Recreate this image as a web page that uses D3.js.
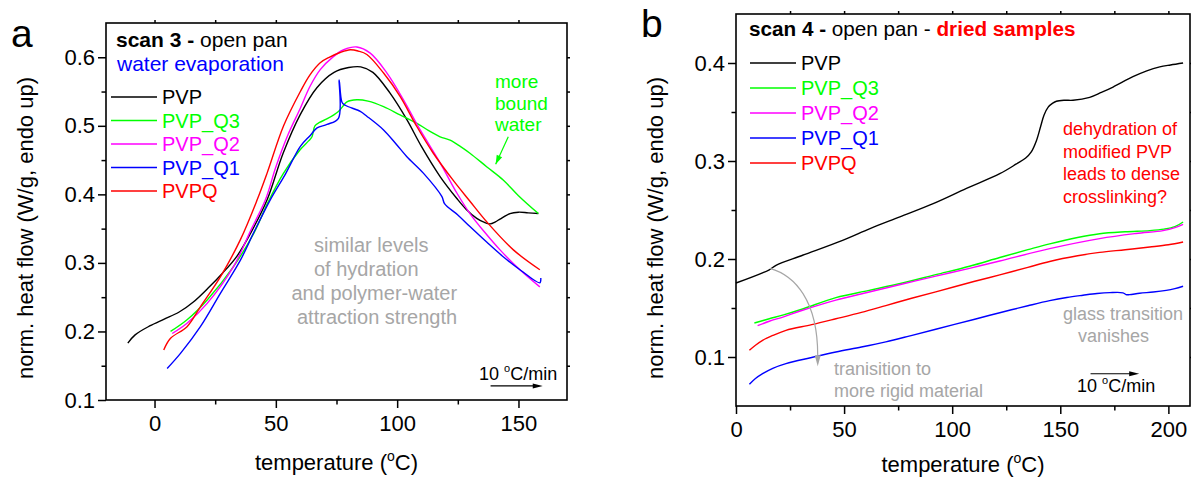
<!DOCTYPE html>
<html><head><meta charset="utf-8">
<script src="https://cdn.jsdelivr.net/npm/d3@7"></script>
<style>body{margin:0;background:#fff}svg{display:block;font-family:Arial,"Liberation Sans",sans-serif}</style>
</head><body>
<svg id="c" width="1191" height="485"></svg>
<script>
// ---------------- DATA ----------------
const seriesNames = ["PVP", "PVP_Q3", "PVP_Q2", "PVP_Q1", "PVPQ"];
const seriesColors = ["#000000", "#00ff00", "#ff00ff", "#0000ff", "#ff0000"];

// panel a: scan 3 (temperature °C, W/g)
const scan3_PVP = [[-11,0.183],[-8,0.195],[-2,0.208],[4,0.218],[10,0.228],[16,0.243],[22,0.263],[28,0.285],[34,0.31],[40,0.346],[46.4,0.392],[53,0.46],[60,0.516],[67,0.556],[74,0.578],[80,0.585],[85,0.586],[90,0.578],[97,0.548],[104,0.509],[110,0.47],[117.7,0.426],[124.6,0.394],[128.5,0.378],[132.8,0.365],[136,0.359],[138.3,0.357],[140.5,0.36],[142.4,0.364],[146.5,0.372],[150,0.374],[154,0.373],[158.2,0.372]];
const scan3_PVP_Q3 = [[6.6,0.2],[13.4,0.217],[21.7,0.246],[32.6,0.295],[40.9,0.343],[46.7,0.388],[53,0.43],[60,0.465],[63.5,0.478],[64.9,0.484],[66.1,0.5],[68,0.505],[71,0.51],[75.8,0.521],[77.5,0.528],[79.3,0.535],[83.4,0.538],[88,0.536],[94.4,0.528],[101.2,0.516],[108,0.504],[113,0.493],[117.7,0.484],[121.8,0.479],[126,0.47],[130,0.46],[137,0.44],[143.7,0.421],[150,0.398],[158.2,0.372]];
const scan3_PVP_Q2 = [[7.3,0.197],[13.4,0.212],[21.7,0.241],[32.6,0.295],[40,0.35],[45.7,0.392],[50,0.44],[55,0.487],[60,0.525],[64,0.557],[68.3,0.582],[73.7,0.601],[78,0.611],[83.4,0.615],[88.9,0.606],[95.8,0.577],[102.6,0.538],[109.5,0.494],[117.7,0.446],[124.6,0.402],[130,0.372],[136,0.345],[142.4,0.319],[150.6,0.29],[158.8,0.265]];
const scan3_PVP_Q1 = [[5.2,0.146],[10.7,0.168],[18.9,0.207],[27.2,0.256],[35.4,0.304],[41,0.345],[47.7,0.392],[54,0.43],[60.1,0.47],[64.2,0.486],[67,0.497],[71.1,0.502],[75.8,0.511],[76.1,0.567],[77.3,0.534],[78.6,0.53],[84.8,0.521],[87.5,0.514],[94.4,0.494],[99.9,0.472],[104,0.455],[110.8,0.431],[118.4,0.397],[119.6,0.386],[125,0.37],[130,0.353],[137,0.33],[143.7,0.309],[151,0.289],[158.8,0.271],[159.2,0.278]];
const scan3_PVPQ = [[3.8,0.173],[6.6,0.19],[13.4,0.207],[18.9,0.236],[27.2,0.28],[35.4,0.334],[42.3,0.392],[46.4,0.431],[53.2,0.5],[60.1,0.55],[64,0.574],[68.3,0.592],[72,0.6],[76.5,0.607],[80.7,0.611],[84,0.609],[87.5,0.604],[94.4,0.577],[101.2,0.543],[108.1,0.499],[114.9,0.46],[123.2,0.42],[130,0.39],[136.9,0.36],[147.9,0.319],[158.8,0.29]];

// panel b: scan 4 (dried samples)
const scan4_PVP = [[0,0.1755],[15.4,0.189],[18.5,0.1936],[30.8,0.2038],[49.3,0.219],[62,0.231],[75.8,0.243],[91.2,0.2565],[106.6,0.272],[122,0.287],[129.7,0.297],[134,0.303],[136.5,0.309],[139,0.321],[141,0.336],[142.5,0.347],[144.4,0.355],[146.5,0.359],[148.2,0.361],[152,0.362],[155.9,0.362],[163.6,0.365],[169,0.37],[174.4,0.3755],[183.6,0.386],[190,0.392],[196,0.396],[201,0.398],[206.8,0.40]];
const scan4_PVP_Q3 = [[8.5,0.1347],[15.4,0.139],[22,0.143],[30.8,0.149],[46.2,0.1606],[61.6,0.168],[77,0.1755],[92.4,0.184],[108,0.1926],[122,0.2015],[135,0.2095],[145.1,0.2155],[158,0.222],[168.2,0.2258],[180,0.2278],[191.4,0.229],[198,0.2305],[203,0.233],[206.8,0.2378]];
const scan4_PVP_Q2 = [[10,0.132],[15.4,0.1365],[22,0.141],[30.8,0.1477],[46.2,0.158],[61.6,0.1663],[77,0.1745],[92.4,0.1825],[108,0.1905],[122,0.198],[145.1,0.2106],[168.2,0.2208],[185,0.226],[197.5,0.229],[203,0.232],[206.8,0.2354]];
const scan4_PVP_Q1 = [[6.2,0.0721],[9,0.078],[12.3,0.083],[17,0.0885],[23.1,0.0933],[35,0.0995],[46.2,0.1051],[58,0.1102],[69.3,0.1155],[80,0.1213],[92.4,0.1283],[110,0.1383],[122,0.1452],[135,0.1523],[145.1,0.1575],[153,0.1607],[160.5,0.163],[167,0.1648],[172.9,0.1657],[179,0.1655],[180.4,0.1637],[182,0.1636],[186.7,0.1651],[193,0.1663],[199,0.168],[203,0.1698],[206.8,0.1722]];
const scan4_PVPQ = [[6.2,0.1068],[9,0.112],[12.3,0.117],[17,0.122],[23.1,0.1272],[35,0.133],[46.2,0.139],[58,0.1455],[69.3,0.1525],[80,0.1592],[92.4,0.1665],[110,0.177],[122,0.1838],[135,0.1915],[145.1,0.1975],[158,0.2033],[168.2,0.2068],[180,0.2095],[191.4,0.2122],[200,0.2145],[206.8,0.2174]];

const xTicksA = [0, 50, 100, 150];
const xMinorA = [-25, 25, 75, 125, 175];
const yTicksA = [0.1, 0.2, 0.3, 0.4, 0.5, 0.6];
const yMinorA = [0.15, 0.25, 0.35, 0.45, 0.55, 0.65];
const xTicksB = [0, 50, 100, 150, 200];
const xMinorB = [25, 75, 125, 175];
const yTicksB = [0.1, 0.2, 0.3, 0.4];
const yMinorB = [0.05, 0.15, 0.25, 0.35, 0.45];

const scan3Series = [scan3_PVP, scan3_PVP_Q3, scan3_PVP_Q2, scan3_PVP_Q1, scan3_PVPQ];
const scan4Series = [scan4_PVP, scan4_PVP_Q3, scan4_PVP_Q2, scan4_PVP_Q1, scan4_PVPQ];

// ---------------- DRAWING ----------------
const svg = d3.select("#c");
const FONT = 'Arial, "Liberation Sans", sans-serif';
const GRAY = "#a6a6a6";

function arrowHead(g, x1, y1, x2, y2, len, w, color) {
  const a = Math.atan2(y2 - y1, x2 - x1);
  const bx = x2 - len * Math.cos(a), by = y2 - len * Math.sin(a);
  const nx = -Math.sin(a) * w / 2, ny = Math.cos(a) * w / 2;
  g.append("path").attr("d", `M${x2},${y2}L${bx + nx},${by + ny}L${bx - nx},${by - ny}Z`).attr("fill", color);
}

function panel(cfg) {
  const g = svg.append("g");
  const x = d3.scaleLinear().domain(cfg.xDomain).range([cfg.left, cfg.right]);
  const y = d3.scaleLinear().domain(cfg.yDomain).range([cfg.bottom, cfg.top]);

  const styleAxis = sel => {
    sel.select(".domain").remove();
    sel.selectAll(".tick line").attr("stroke", "#000").attr("stroke-width", 1.5);
    sel.selectAll(".tick text").attr("font-size", 22).attr("font-family", FONT).attr("fill", "#000");
  };
  g.append("g").attr("transform", `translate(0,${cfg.bottom})`)
    .call(d3.axisBottom(x).tickValues(cfg.xTicks).tickSize(8).tickPadding(7).tickFormat(d3.format("d"))).call(styleAxis);
  g.append("g").attr("transform", `translate(0,${cfg.bottom})`)
    .call(d3.axisBottom(x).tickValues(cfg.xMinor.filter(v => v > cfg.xDomain[0] && v < cfg.xDomain[1])).tickSize(4.5).tickFormat("")).call(styleAxis);
  g.append("g").attr("transform", `translate(${cfg.left},0)`)
    .call(d3.axisLeft(y).tickValues(cfg.yTicks).tickSize(8).tickPadding(3).tickFormat(d3.format(".1f"))).call(styleAxis);
  g.append("g").attr("transform", `translate(${cfg.left},0)`)
    .call(d3.axisLeft(y).tickValues(cfg.yMinor.filter(v => v > cfg.yDomain[0] && v < cfg.yDomain[1])).tickSize(4.5).tickFormat("")).call(styleAxis);
  const allX = cfg.xTicks.concat(cfg.xMinor).filter(v => v > cfg.xDomain[0] && v < cfg.xDomain[1]);
  const allY = cfg.yTicks.concat(cfg.yMinor).filter(v => v > cfg.yDomain[0] && v < cfg.yDomain[1]);
  g.append("g").attr("transform", `translate(0,${cfg.top})`)
    .call(d3.axisTop(x).tickValues(allX).tickSize(3).tickFormat("")).call(styleAxis);
  g.append("g").attr("transform", `translate(${cfg.right},0)`)
    .call(d3.axisRight(y).tickValues(allY).tickSize(3).tickFormat("")).call(styleAxis);

  g.append("rect").attr("x", cfg.left).attr("y", cfg.top)
    .attr("width", cfg.right - cfg.left).attr("height", cfg.bottom - cfg.top)
    .attr("fill", "none").attr("stroke", "#000").attr("stroke-width", 1.6);

  const line = d3.line().x(d => x(d[0])).y(d => y(d[1])).curve(d3.curveCatmullRom.alpha(0.5));
  cfg.series.forEach((s, i) => {
    g.append("path").datum(s).attr("d", line).attr("fill", "none")
      .attr("stroke", seriesColors[i]).attr("stroke-width", 1.4).attr("stroke-linejoin", "round");
  });

  const xt = g.append("text").attr("x", (cfg.left + cfg.right) / 2).attr("y", cfg.xTitleY)
    .attr("text-anchor", "middle").attr("font-size", 22).attr("font-family", FONT);
  xt.append("tspan").text("temperature (");
  xt.append("tspan").attr("font-size", 14).attr("dy", -9).text("o");
  xt.append("tspan").attr("dy", 9).text("C)");

  g.append("text").attr("transform", `translate(${cfg.yTitleX},228) rotate(-90)`)
    .attr("text-anchor", "middle").attr("font-size", 22).attr("font-family", FONT)
    .text("norm. heat flow (W/g, endo up)");

  g.append("text").attr("x", cfg.letterX).attr("y", cfg.letterY).attr("font-size", 39)
    .attr("font-family", FONT).text(cfg.letter);

  seriesNames.forEach((n, i) => {
    const ly = cfg.legY + i * cfg.legDy;
    g.append("line").attr("x1", cfg.legX).attr("x2", cfg.legX + 46).attr("y1", ly).attr("y2", ly)
      .attr("stroke", seriesColors[i]).attr("stroke-width", 1.4);
    g.append("text").attr("x", cfg.legX + 51).attr("y", ly + 7).attr("font-size", 20)
      .attr("font-family", FONT).attr("fill", seriesColors[i]).text(n);
  });

  const rt = g.append("text").attr("x", cfg.rateX).attr("y", cfg.rateY).attr("font-size", 18).attr("font-family", FONT);
  rt.append("tspan").text("10 ");
  rt.append("tspan").attr("font-size", 11).attr("dy", -8).text("o");
  rt.append("tspan").attr("dy", 8).text("C/min");
  const ax1 = x(cfg.rateArrow[0]), ax2 = x(cfg.rateArrow[1]), ay = y(cfg.rateArrow[2]);
  g.append("line").attr("x1", ax1).attr("x2", ax2 - 6).attr("y1", ay).attr("y2", ay).attr("stroke", "#000").attr("stroke-width", 1.2);
  arrowHead(g, ax1, ay, ax2, ay, 10, 5, "#000");

  return { g, x, y };
}

// ---- panel a ----
const A = panel({
  left: 106, right: 567, top: 23, bottom: 400,
  xDomain: [-20, 170], yDomain: [0.1, 0.65],
  xTicks: xTicksA, xMinor: xMinorA, yTicks: yTicksA, yMinor: yMinorA,
  series: scan3Series, xTitleY: 470, yTitleX: 33,
  letter: "a", letterX: 11, letterY: 47,
  legX: 111, legY: 97, legDy: 23.5,
  rateX: 479, rateY: 380, rateArrow: [138.5, 160, 0.1205]
});
{
  const g = A.g;
  const t = g.append("text").attr("x", 116).attr("y", 47).attr("font-size", 21).attr("font-family", FONT);
  t.append("tspan").attr("font-weight", "bold").text("scan 3 - ");
  t.append("tspan").text("open pan");
  g.append("text").attr("x", 117).attr("y", 71).attr("font-size", 21).attr("font-family", FONT)
    .attr("fill", "#0000ff").text("water evaporation");

  [["more", 88], ["bound", 109.5], ["water", 131]].forEach(([s, yy]) => {
    g.append("text").attr("x", 495).attr("y", yy).attr("font-size", 19).attr("font-family", FONT)
      .attr("fill", "#00ff00").text(s);
  });
  const x1 = A.x(145.8), y1 = A.y(0.484), x2 = A.x(140.6), y2 = A.y(0.444);
  g.append("line").attr("x1", x1).attr("y1", y1).attr("x2", x2).attr("y2", y2).attr("stroke", "#00ff00").attr("stroke-width", 1.2);
  arrowHead(g, x1, y1, x2, y2, 9, 6, "#00ff00");

  [["similar levels", 314, 251.5], ["of hydration", 314, 275.5], ["and polymer-water", 291.5, 299.5], ["attraction strength", 297, 323.5]]
    .forEach(([s, xx, yy]) => {
      g.append("text").attr("x", xx).attr("y", yy).attr("font-size", 20).attr("font-family", FONT)
        .attr("fill", GRAY).text(s);
    });
}

// ---- panel b ----
const B = panel({
  left: 736, right: 1190, top: 14, bottom: 406,
  xDomain: [0, 210], yDomain: [0.05, 0.45],
  xTicks: xTicksB, xMinor: xMinorB, yTicks: yTicksB, yMinor: yMinorB,
  series: scan4Series, xTitleY: 471.5, yTitleX: 663,
  letter: "b", letterX: 641, letterY: 37,
  legX: 750, legY: 63, legDy: 25,
  rateX: 1077, rateY: 391.5, rateArrow: [164, 186.5, 0.0829]
});
{
  const g = B.g;
  const t = g.append("text").attr("x", 749).attr("y", 36).attr("font-size", 20.7).attr("font-family", FONT);
  t.append("tspan").attr("font-weight", "bold").text("scan 4 - ");
  t.append("tspan").text("open pan - ");
  t.append("tspan").attr("font-weight", "bold").attr("fill", "#ff0000").text("dried samples");

  [["dehydration of", 135], ["modified PVP", 157.5], ["leads to dense", 180], ["crosslinking?", 202.5]].forEach(([s, yy]) => {
    g.append("text").attr("x", 1063).attr("y", yy).attr("font-size", 18).attr("font-family", FONT)
      .attr("fill", "#ff0000").text(s);
  });
  [["glass transition", 1063, 320], ["vanishes", 1078, 342]].forEach(([s, xx, yy]) => {
    g.append("text").attr("x", xx).attr("y", yy).attr("font-size", 18).attr("font-family", FONT)
      .attr("fill", GRAY).text(s);
  });
  [["tranisition to", 834, 375], ["more rigid material", 834, 397]].forEach(([s, xx, yy]) => {
    g.append("text").attr("x", xx).attr("y", yy).attr("font-size", 18).attr("font-family", FONT)
      .attr("fill", GRAY).text(s);
  });
  const p0 = [B.x(15.7), B.y(0.1905)], c1 = [B.x(27.2), B.y(0.1833)], c2 = [B.x(37.8), B.y(0.1578)], p3 = [B.x(37.8), B.y(0.1016)];
  g.append("path").attr("d", `M${p0}C${c1} ${c2} ${p3}`).attr("fill", "none").attr("stroke", GRAY).attr("stroke-width", 1.2);
  arrowHead(g, p3[0], p3[1] - 5, p3[0], B.y(0.0906), 11, 6, GRAY);
}
</script>
</body></html>
